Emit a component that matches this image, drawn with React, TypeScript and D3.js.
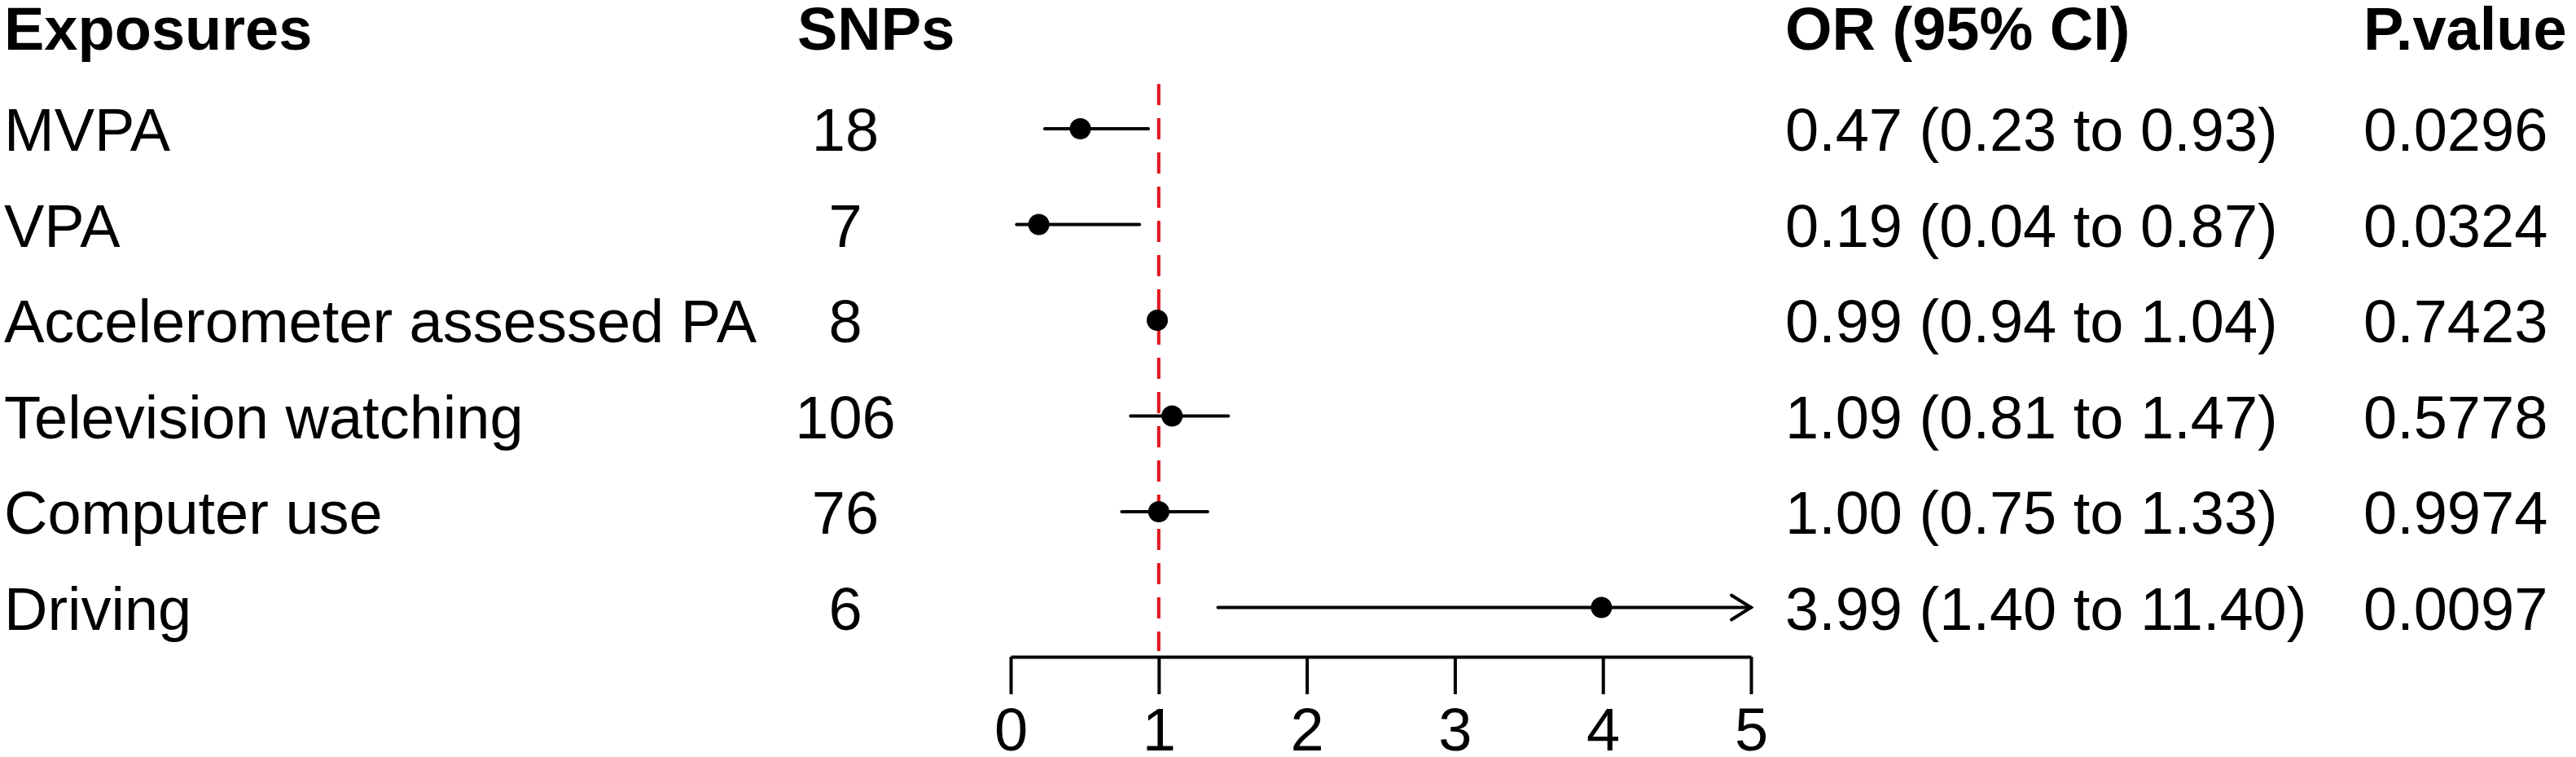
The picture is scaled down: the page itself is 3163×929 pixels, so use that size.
import React, { useEffect, useRef } from 'react';
import * as d3 from 'd3';

const exposures = [
  'MVPA',
  'VPA',
  'Accelerometer assessed PA',
  'Television watching',
  'Computer use',
  'Driving'
];
const snps = [18, 7, 8, 106, 76, 6];
const oddsRatio = [0.47, 0.19, 0.99, 1.09, 1.0, 3.99];
const ciLow = [0.23, 0.04, 0.94, 0.81, 0.75, 1.4];
const ciHigh = [0.93, 0.87, 1.04, 1.47, 1.33, 11.4];
const pValues = ['0.0296', '0.0324', '0.7423', '0.5778', '0.9974', '0.0097'];
const xTicks = [0, 1, 2, 3, 4, 5];
const headers = ['Exposures', 'SNPs', 'OR (95% CI)', 'P.value'];

const W = 3163;
const H = 929;
const font = '"Liberation Sans", Arial, sans-serif';
const fontSize = 74;

export default function App() {
  const axisRef = useRef<SVGGElement>(null);

  const x = d3.scaleLinear().domain([0, 5]).range([1241, 2150]);
  const y = d3.scalePoint<string>().domain(exposures).range([158, 745.5]);
  const axisY = 806;
  const maxX = x.domain()[1];

  useEffect(() => {
    const g = d3.select(axisRef.current);
    g.selectAll('*').remove();
    g.call(
      d3.axisBottom(x)
        .tickValues(xTicks)
        .tickFormat(d3.format('d'))
        .tickSize(46)
        .tickSizeOuter(0)
        .tickPadding(16)
    );
    g.select('.domain').attr('stroke', '#000').attr('stroke-width', 4);
    g.selectAll('.tick line').attr('stroke', '#000').attr('stroke-width', 4);
    g.selectAll('.tick text')
      .attr('fill', '#000')
      .attr('font-size', fontSize)
      .attr('font-family', font);
  }, []);

  const textY = (name: string) => (y(name) as number) + 27;

  return (
    <svg
      width={W}
      height={H}
      style={{ position: 'absolute', left: 0, top: 0, background: '#fff' }}
      fontFamily={font}
      fontSize={fontSize}
    >
      {/* headers */}
      <g fontWeight="bold">
        <text x={5} y={61}>{headers[0]}</text>
        <text x={979} y={61}>{headers[1]}</text>
        <text x={2192} y={61}>{headers[2]}</text>
        <text x={2902} y={61}>{headers[3]}</text>
      </g>

      {/* table columns */}
      {exposures.map((name, i) => (
        <g key={name}>
          <text x={5} y={textY(name)}>{name}</text>
          <text x={1038} y={textY(name)} textAnchor="middle">{snps[i]}</text>
          <text x={2192} y={textY(name)}>
            {`${oddsRatio[i].toFixed(2)} (${ciLow[i].toFixed(2)} to ${ciHigh[i].toFixed(2)})`}
          </text>
          <text x={2902} y={textY(name)}>{pValues[i]}</text>
        </g>
      ))}

      {/* reference line */}
      <line
        x1={x(1)}
        x2={x(1)}
        y1={103}
        y2={799}
        stroke="#e0161d"
        strokeWidth={4}
        strokeDasharray="26 16"
      />

      {/* CIs and points */}
      {exposures.map((name, i) => {
        const cy = y(name) as number;
        const clipped = ciHigh[i] > maxX;
        const x2 = x(Math.min(ciHigh[i], maxX));
        return (
          <g key={'ci' + name} stroke="#000" strokeWidth={4} strokeLinecap="round">
            <line x1={x(ciLow[i])} x2={x2} y1={cy} y2={cy} />
            {clipped && (
              <path fill="none" d={`M${x2 - 24},${cy - 15}L${x2},${cy}L${x2 - 24},${cy + 15}`} />
            )}
            <circle cx={x(oddsRatio[i])} cy={cy} r={13} fill="#000" stroke="none" />
          </g>
        );
      })}

      <g ref={axisRef} transform={`translate(0,${axisY})`} />
    </svg>
  );
}
